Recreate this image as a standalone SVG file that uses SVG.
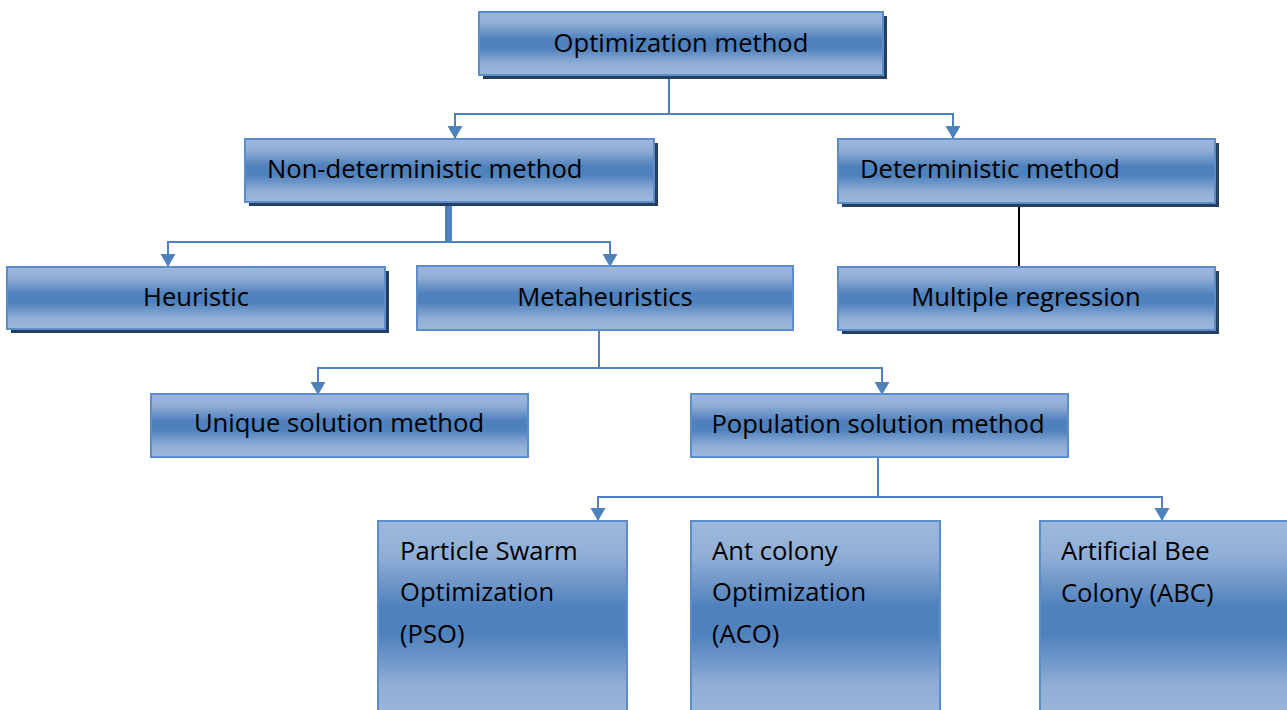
<svg xmlns="http://www.w3.org/2000/svg" width="1287" height="710" viewBox="0 0 1287 710">
  <style>
    .box { fill: url(#boxFill); stroke: #5b8ccb; stroke-width: 2; }
    .shadow { fill: #243f60; }
    .lbl { font-family: "Open Sans", "Liberation Sans", sans-serif; font-size: 25.6px; fill: #000; }
    .mid { text-anchor: middle; }
    .link { fill: none; stroke: #4f81bd; stroke-width: 2; marker-end: url(#arrow); }
  </style>
  <defs>
    <linearGradient id="boxFill" x1="0" y1="0" x2="0" y2="1">
      <stop offset="0" stop-color="#9cb9dc"/>
      <stop offset="0.18" stop-color="#90aed5"/>
      <stop offset="0.43" stop-color="#4f81bd"/>
      <stop offset="0.57" stop-color="#4f81bd"/>
      <stop offset="0.82" stop-color="#90aed5"/>
      <stop offset="1" stop-color="#9cb9dc"/>
    </linearGradient>
    <marker id="arrow" markerUnits="userSpaceOnUse" markerWidth="14" markerHeight="16" refX="12" refY="0" viewBox="0 -8 14 16" orient="auto">
      <path d="M0,-7.5 L13,0 L0,7.5 Z" fill="#4f81bd"/>
    </marker>
  </defs>

  <!-- connectors -->
  <g id="connectors">
    <path class="link" d="M669,75 V114 H455 V138"/>
    <path class="link" d="M669,114 H953 V138"/>
    <rect x="445" y="202" width="7" height="40" fill="#4f81bd"/>
    <path class="link" d="M448,242 H168 V266"/>
    <path class="link" d="M448,242 H610 V266"/>
    <line x1="1019" y1="201" x2="1019" y2="267" stroke="#000" stroke-width="2"/>
    <path class="link" d="M599,330 V368 H318 V394"/>
    <path class="link" d="M599,368 H882 V394"/>
    <path class="link" d="M878,457 V497 H598 V520"/>
    <path class="link" d="M878,497 H1162 V520"/>
  </g>

  <g id="optimization-method">
    <rect class="shadow" x="483" y="16" width="404" height="63"/>
    <rect class="box" x="479" y="12" width="404" height="63"/>
    <text class="lbl mid" x="681" y="52">Optimization method</text>
  </g>

  <g id="non-deterministic-method">
    <rect class="shadow" x="249" y="143" width="409" height="63"/>
    <rect class="box" x="245" y="139" width="409" height="63"/>
    <text class="lbl" x="267" y="178">Non-deterministic method</text>
  </g>

  <g id="deterministic-method">
    <rect class="shadow" x="842" y="143" width="377" height="64"/>
    <rect class="box" x="838" y="139" width="377" height="64"/>
    <text class="lbl" x="860" y="178">Deterministic method</text>
  </g>

  <g id="heuristic">
    <rect class="shadow" x="11" y="271" width="378" height="62"/>
    <rect class="box" x="7" y="267" width="378" height="62"/>
    <text class="lbl mid" x="196" y="306">Heuristic</text>
  </g>

  <g id="metaheuristics">
    <rect class="box" x="417" y="266" width="376" height="64"/>
    <text class="lbl mid" x="605" y="306">Metaheuristics</text>
  </g>

  <g id="multiple-regression">
    <rect class="shadow" x="842" y="271" width="377" height="63"/>
    <rect class="box" x="838" y="267" width="377" height="63"/>
    <text class="lbl mid" x="1026" y="306">Multiple regression</text>
  </g>

  <g id="unique-solution-method">
    <rect class="box" x="151" y="394" width="377" height="63"/>
    <text class="lbl mid" x="339" y="432">Unique solution method</text>
  </g>

  <g id="population-solution-method">
    <rect class="box" x="691" y="394" width="377" height="63"/>
    <text class="lbl mid" x="878" y="433">Population solution method</text>
  </g>

  <g id="pso">
    <rect class="box" x="378" y="521" width="249" height="200"/>
    <text class="lbl" x="400" y="560">Particle Swarm</text>
    <text class="lbl" x="400" y="601">Optimization</text>
    <text class="lbl" x="400" y="643">(PSO)</text>
  </g>

  <g id="aco">
    <rect class="box" x="691" y="521" width="249" height="200"/>
    <text class="lbl" x="712" y="560">Ant colony</text>
    <text class="lbl" x="712" y="601">Optimization</text>
    <text class="lbl" x="712" y="643">(ACO)</text>
  </g>

  <g id="abc">
    <rect class="box" x="1040" y="521" width="260" height="200"/>
    <text class="lbl" x="1061" y="560">Artificial Bee</text>
    <text class="lbl" x="1061" y="602">Colony (ABC)</text>
  </g>
</svg>
